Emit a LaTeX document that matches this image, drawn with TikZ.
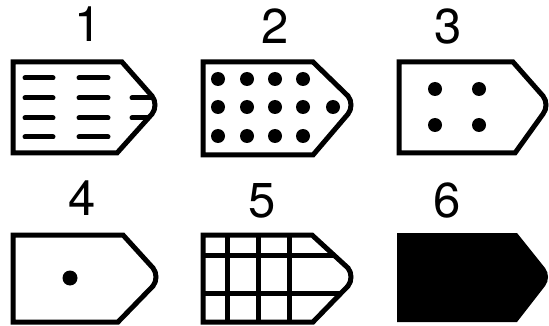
\documentclass[tikz,border=0pt]{standalone}
\usepackage{fontspec}
\setmainfont{TeX Gyre Heros}
\newcommand\tagdo[8]{#1 (#2,#3) -- (#5,#3) -- ({#7-4},{#8-9}) .. controls (#7,{#8-4}) and (#7,{#8+4}) .. ({#7-4},{#8+9}) -- (#6,#4) -- (#2,#4) -- cycle;}
\begin{document}
\begin{tikzpicture}[x=1pt,y=-1pt,
  outline/.style={draw=black,line width=5pt,line join=miter},
  bar/.style={line width=5pt},
  numlabel/.style={anchor=base,inner sep=0pt,font=\fontsize{49}{49}\selectfont}]
\useasboundingbox (0,0) rectangle (549,326);
% labels
\node[numlabel] (n1) at (88,42) {1};
\node[numlabel] (n2) at (275,44) {2};
\node[numlabel] (n3) at (448,44) {3};
\node[numlabel] (n4) at (82,215) {4};
\node[numlabel] (n5) at (262,217) {5};
\node[numlabel] (n6) at (447,217) {6};
% shape 1
\begin{scope}
\tagdo{\clip}{13}{62}{153}{122}{117}{156}{105}
\foreach \y in {78,98,118,137}{
  \draw[bar,line cap=round] (25,\y) -- (53,\y);
  \draw[bar,line cap=round] (79,\y) -- (108,\y);}
\foreach \y in {98,118}{\draw[bar,line cap=round] (132,\y) -- (170,\y);}
\end{scope}
\tagdo{\draw[outline]}{13}{62}{153}{122}{117}{156}{105}
% shape 2
\tagdo{\draw[outline]}{203}{62}{155}{313}{313}{352}{105}
\foreach \y in {79,107,136}{\foreach \x in {218,247,275,303}{\fill (\x,\y) circle (7);}}
\fill (333,107) circle (7);
% shape 3
\tagdo{\draw[outline]}{399}{62}{153}{513}{515}{547}{105}
\foreach \y in {89,125}{\foreach \x in {435,479}{\fill (\x,\y) circle (7);}}
% shape 4
\tagdo{\draw[outline]}{13}{235}{322}{123}{118}{157}{277}
\fill (70,278) circle (7.5);
% shape 5
\begin{scope}
\tagdo{\clip}{203}{235}{322}{312}{313}{352}{277}
\foreach \x in {227,258,289}{\draw[bar] (\x,230) -- (\x,330);}
\foreach \y in {255,293}{\draw[bar] (200,\y) -- (360,\y);}
\end{scope}
\tagdo{\draw[outline]}{203}{235}{322}{312}{313}{352}{277}
% shape 6
\tagdo{\fill[black]}{397}{233}{322}{517}{517}{549}{277}
\end{tikzpicture}
\end{document}
